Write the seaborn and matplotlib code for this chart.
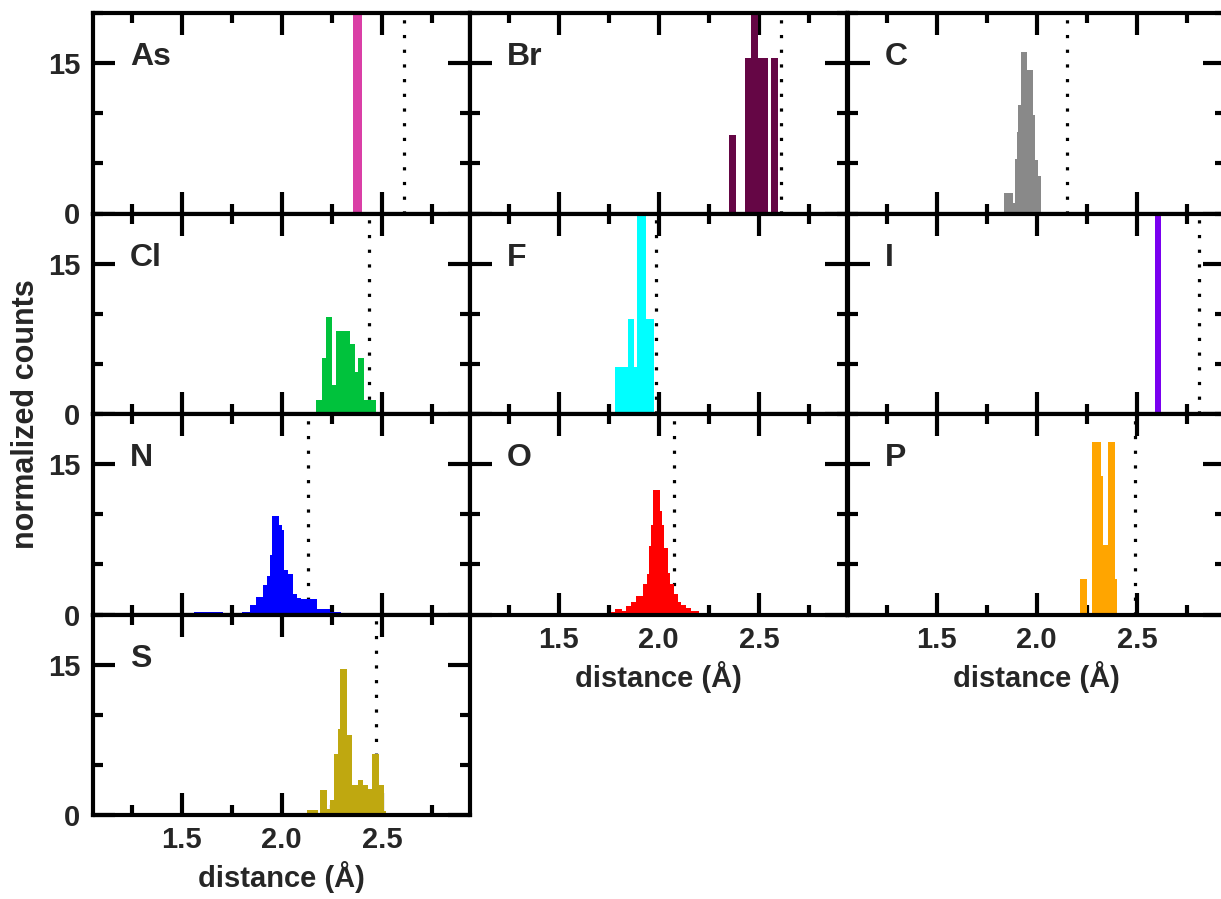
import numpy as np
import matplotlib
matplotlib.use("Agg")
import matplotlib.pyplot as plt
from matplotlib.ticker import MultipleLocator
import seaborn as sns

# ---------------- data ----------------
elements = ["As", "Br", "C", "Cl", "F", "I", "N", "O", "P", "S"]
colors = ["#DA3FA6", "#650645", "#898989", "#00C23C", "#00FFFF",
          "#7A00F0", "#0000FF", "#FF0000", "#FFA500", "#BFA810"]
ref_dist = [2.608, 2.612, 2.15, 2.438, 1.987, 2.808, 2.133, 2.075, 2.488, 2.47]

as_edges = [2.358, 2.403]
as_heights = [22.0]

br_edges = [2.353, 2.387, 2.433, 2.463, 2.497, 2.547, 2.562, 2.597]
br_heights = [7.8, 0.0, 15.5, 23.0, 15.5, 0.0, 15.5]

c_edges = [1.838, 1.883, 1.892, 1.900, 1.908, 1.920, 1.953, 1.983, 1.992, 2.005, 2.022]
c_heights = [2.0, 1.0, 5.4, 8.1, 10.8, 16.1, 14.3, 9.8, 5.3, 3.7]

cl_edges = [2.170, 2.200, 2.220, 2.253, 2.270, 2.342, 2.367, 2.383, 2.412, 2.472]
cl_heights = [1.4, 5.6, 9.7, 2.9, 8.3, 7.0, 4.2, 5.6, 1.4]

f_edges = [1.783, 1.845, 1.878, 1.892, 1.937, 1.978]
f_heights = [4.7, 9.5, 4.7, 22.0, 9.5]

i_edges = [2.588, 2.620]
i_heights = [22.0]

n_edges = [1.562, 1.705, 1.800, 1.842, 1.870, 1.908, 1.928, 1.942, 1.950, 1.987,
           2.000, 2.013, 2.033, 2.058, 2.078, 2.095, 2.175, 2.242, 2.295, 2.458]
n_heights = [0.2, 0.0, 0.2, 0.9, 1.7, 2.9, 3.8, 5.9, 9.8,
             8.9, 8.4, 4.4, 4.0, 2.0, 1.6, 1.5, 0.5, 0.25, 0.15]

o_edges = [1.762, 1.783, 1.817, 1.837, 1.862, 1.887, 1.920, 1.942, 1.953, 1.962,
           1.970, 2.008, 2.017, 2.028, 2.045, 2.058, 2.078, 2.095, 2.112, 2.137,
           2.162, 2.200, 2.233, 2.258, 2.317]
o_heights = [0.2, 0.5, 0.3, 0.8, 1.2, 1.8, 3.0, 4.0, 6.8, 8.9,
             12.4, 10.3, 8.9, 6.6, 4.1, 3.0, 2.0, 1.2, 0.9, 0.6,
             0.3, 0.15, 0.0, 0.15]

p_edges = [2.217, 2.250, 2.275, 2.322, 2.332, 2.358, 2.392, 2.402]
p_heights = [3.5, 0.0, 17.2, 13.8, 6.9, 17.2, 3.5]

s_edges = [2.128, 2.183, 2.190, 2.225, 2.242, 2.262, 2.280, 2.292, 2.325, 2.353,
           2.380, 2.408, 2.433, 2.450, 2.483, 2.512, 2.522]
s_heights = [0.5, 0.0, 2.5, 0.6, 1.5, 6.1, 8.6, 14.6, 8.0, 3.0,
             3.5, 3.0, 2.6, 6.1, 3.0, 0.4]

hist_edges = [as_edges, br_edges, c_edges, cl_edges, f_edges,
              i_edges, n_edges, o_edges, p_edges, s_edges]
hist_heights = [as_heights, br_heights, c_heights, cl_heights, f_heights,
                i_heights, n_heights, o_heights, p_heights, s_heights]

x_ticks = [1.5, 2.0, 2.5]
x_ticklabels = ["1.5", "2.0", "2.5"]
y_ticks = [0, 15]
y_ticklabels = ["0", "15"]

# ---------------- style ----------------
sns.set_style("ticks")
plt.rcParams["font.family"] = ["Liberation Sans", "DejaVu Sans"]
plt.rcParams["font.weight"] = "bold"
plt.rcParams["axes.labelweight"] = "bold"

W, H = 1221, 899
fig = plt.figure(figsize=(W / 100, H / 100), dpi=100)

col_left = [93, 470, 848]
col_w = 377
row_top0 = 13
row_h = 200.5

for k, el in enumerate(elements):
    r, c = divmod(k, 3)
    left = col_left[c]
    top = row_top0 + r * row_h
    ax = fig.add_axes([left / W, 1 - (top + row_h) / H, col_w / W, row_h / H])

    ax.axvline(ref_dist[k], color="black", linestyle=(0, (1, 3.6)),
               linewidth=2.3, zorder=1)

    edges = [float(e) for e in hist_edges[k]]
    centers = [(a + b) / 2 for a, b in zip(edges[:-1], edges[1:])]
    sns.histplot(x=centers, weights=list(hist_heights[k]), bins=edges, ax=ax,
                 color=colors[k], alpha=1, linewidth=0, element="bars",
                 fill=True, zorder=3)

    ax.set_xlim(1.057, 2.94)
    ax.set_ylim(0, 20)
    ax.set_xticks(x_ticks)
    ax.set_yticks(y_ticks)
    ax.xaxis.set_minor_locator(MultipleLocator(0.25))
    ax.yaxis.set_minor_locator(MultipleLocator(5))
    ax.tick_params(which="both", direction="in", top=True, right=True,
                   width=3, labelsize=21, color="black")
    ax.tick_params(which="major", length=16)
    ax.tick_params(which="minor", length=7)
    ax.tick_params(axis="x", pad=8)
    ax.tick_params(axis="y", pad=9)
    for sp in ax.spines.values():
        sp.set_linewidth(3)
        sp.set_color("black")
        sp.set_zorder(5)
    ax.set_ylabel("")
    ax.set_xlabel("")

    if c == 0:
        ax.set_yticklabels(y_ticklabels, fontweight="bold")
    else:
        ax.set_yticklabels([])

    bottom_row = (c == 0 and r == 3) or (c > 0 and r == 2)
    if bottom_row:
        ax.set_xticklabels(x_ticklabels, fontweight="bold")
        ax.set_xlabel("distance (Å)", fontsize=21, fontweight="bold", labelpad=5)
    else:
        ax.set_xticklabels([])

    ax.text(0.098, 0.78, el, transform=ax.transAxes, fontsize=23,
            fontweight="bold", ha="left", va="center", zorder=6)

fig.text(26 / W, 1 - 414 / H, "normalized counts", rotation=90,
         fontsize=22, fontweight="bold", ha="center", va="center")

fig.savefig("out.png", dpi=100)
